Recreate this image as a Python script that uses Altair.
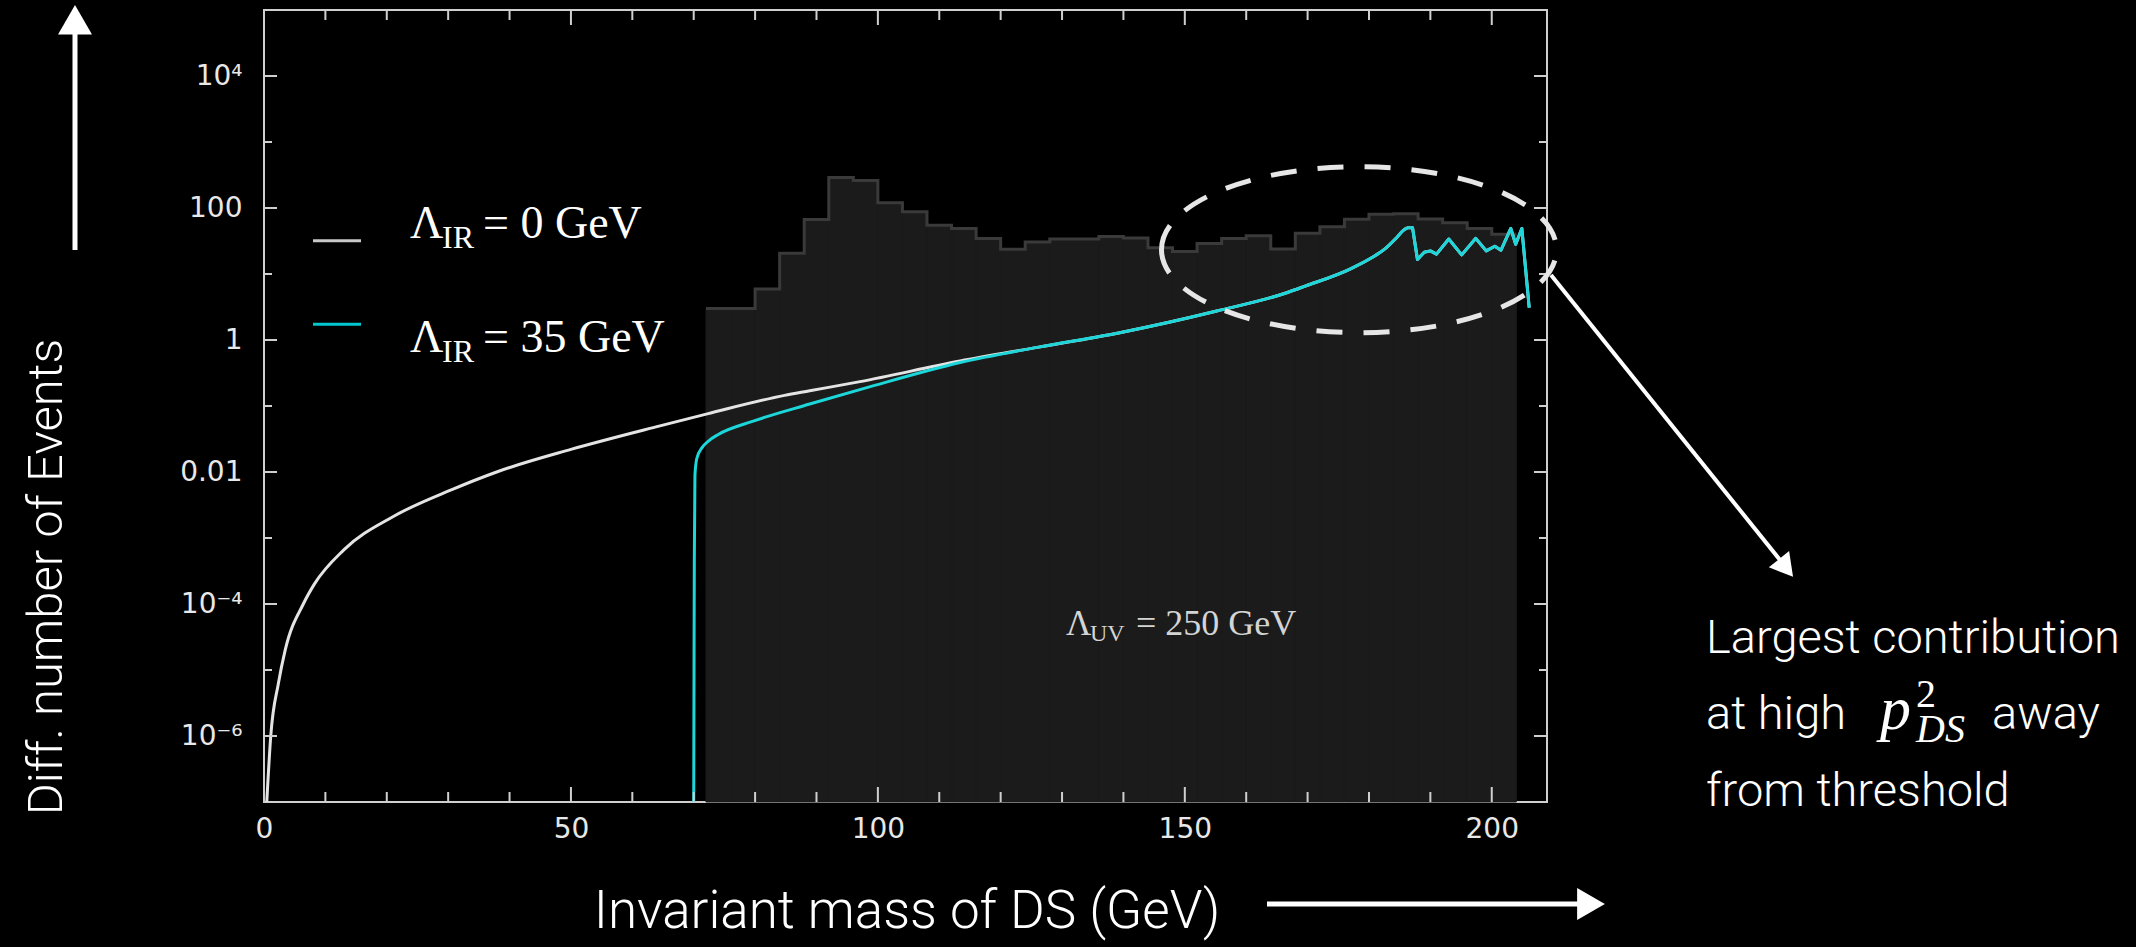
import altair as alt
import pandas as pd

# ---------------- layout ----------------
W, H = 1283, 792            # plot area in px
LEFT, TOP = 264, 10         # plot origin on the page
PAGE_W, PAGE_H = 2136, 947

X_DOMAIN = [0, 209]
Y_DOMAIN = [1e-7, 1e5]

BG = "#000000"
FRAME = "#cfcfcf"
LABEL = "#e8e8e8"
HIST_FILL = "#1b1b1b"
HIST_EDGE = "#3a3a3a"
WHITE = "#e4e4e4"
CYAN = "#1cd6d9"

TICKFONT = "DejaVu Sans, Liberation Sans, sans-serif"
NARROW = "Roboto, Liberation Sans, sans-serif"
SERIF = "Liberation Serif, DejaVu Serif, serif"

# ---------------- data ----------------
# histogram for Lambda_UV = 250 GeV (4 GeV bins)
hist_edges = [72, 76, 80, 84, 88, 92, 96, 100, 104, 108, 112, 116, 120, 124, 128,
              132, 136, 140, 144, 148, 152, 156, 160, 164, 168, 172, 176, 180, 184,
              188, 192, 196, 200, 204]
hist_counts = [3.0, 3.0, 5.9, 20.6, 67, 290, 260, 120, 88, 55, 49, 34.5, 23.8, 30.5,
               34, 34, 37, 35, 25, 22, 29, 34.5, 38, 24, 41.5, 52, 67.5, 80.5, 81.5,
               68, 60, 49, 40]

# Lambda_IR = 0 GeV, low-mass part
white_low_x = [0.45, 1.1, 2.35, 3.45, 6.4, 8.2, 13, 21, 30.6, 37.9, 50, 64.5, 72.2,
               84.8, 88.9, 97.1, 113.4]
white_low_y = [1.0e-7, 1.0e-6, 6.3e-6, 2.0e-5, 1.0e-4, 2.0e-4, 6.6e-4, 2.1e-3, 5.4e-3,
               1.0e-2, 2.2e-2, 5.0e-2, 7.6e-2, 0.145, 0.17, 0.234, 0.48]

# Lambda_IR = 35 GeV, from the 70 GeV threshold
cyan_low_x = [70.0, 70.05, 70.1, 70.2, 70.5, 71.3, 72.5, 74.0, 79.7, 88.9, 98.2, 113.4]
cyan_low_y = [1.0e-7, 1.0e-5, 5.0e-4, 8.9e-3, 1.6e-2, 2.3e-2, 3.0e-2, 3.7e-2, 5.9e-2,
              0.107, 0.19, 0.457]

# both curves coincide at high mass
shared_x = [126.2, 139.4, 155.2, 166.6, 169.5, 177.0, 180.5, 182.6, 184.5, 185.6, 186.2]
shared_y = [0.78, 1.29, 2.75, 5.2, 6.5, 12.0, 17.8, 24.0, 35.5, 45.7, 50.0]

# oscillating tail near the endpoint
tail_x = [186.2, 187.1, 187.9, 189.0, 190.0, 191.0, 193.0, 195.1, 197.4, 199.1, 200.5,
          201.5, 203.1, 203.9, 204.9, 206.1]
tail_y = [50.0, 50.0, 16.6, 21.4, 22.4, 20.0, 33.9, 19.5, 34.7, 22.4, 26.3, 22.9, 49.0,
          28.2, 49.0, 3.1]

x_label_values = [0, 50, 100, 150, 200]
x_minor_values = [10, 20, 30, 40, 60, 70, 80, 90, 110, 120, 130, 140, 160, 170, 180, 190]
y_label_values = [1e-6, 1e-4, 1e-2, 1, 1e2, 1e4]
y_minor_values = [1e-5, 1e-3, 1e-1, 10, 1e3]

# ---------------- scales / axes ----------------
xs = alt.Scale(domain=X_DOMAIN, nice=False, zero=False)
ys = alt.Scale(type="log", domain=Y_DOMAIN, nice=False)

x_axis = alt.Axis(values=x_label_values, format="d", title=None, grid=False,
                  ticks=False, tickSize=0, domain=False, labelFont=TICKFONT,
                  labelFontSize=28, labelColor=LABEL, labelPadding=13,
                  labelFlush=False, labelOverlap=False)
y_axis = alt.Axis(values=y_label_values, title=None, grid=False, ticks=False,
                  tickSize=0, domain=False, labelFont=TICKFONT, labelFontSize=28,
                  labelColor=LABEL, labelPadding=22, labelFlush=False,
                  labelOverlap=False,
                  labelExpr=("datum.value < 1e-5 ? '10\u207b\u2076' : "
                             "datum.value < 1e-3 ? '10\u207b\u2074' : "
                             "datum.value < 0.1 ? '0.01' : "
                             "datum.value < 10 ? '1' : "
                             "datum.value < 1000 ? '100' : '10\u2074'"))


def X(field):
    return alt.X(f"{field}:Q", scale=xs, axis=x_axis)


def Y(field):
    return alt.Y(f"{field}:Q", scale=ys, axis=y_axis)


one = pd.DataFrame({"a": [0]})


def px(x):
    return x - LEFT


def py(y):
    return y - TOP


# ---------------- histogram ----------------
hist_df = pd.DataFrame({"lo": hist_edges[:-1], "hi": hist_edges[1:],
                        "n": hist_counts, "floor": [Y_DOMAIN[0]] * len(hist_counts)})
hist_fill = alt.Chart(hist_df).mark_rect(color=HIST_FILL, stroke=HIST_FILL,
                                         strokeWidth=1).encode(
    x=X("lo"), x2="hi", y=Y("n"), y2="floor")

step_df = pd.DataFrame({"e": hist_edges, "n": hist_counts + [hist_counts[-1]]})
hist_edge = alt.Chart(step_df).mark_line(
    color=HIST_EDGE, strokeWidth=3, interpolate="step-after").encode(x=X("e"), y=Y("n"))

# ---------------- curves ----------------
def curve(xv, yv, color, interp):
    df = pd.DataFrame({"m": xv, "v": yv})
    return alt.Chart(df).mark_line(color=color, strokeWidth=3, interpolate=interp,
                                   strokeJoin="round").encode(x=X("m"), y=Y("v"))


white_smooth = curve(white_low_x + shared_x, white_low_y + shared_y, WHITE, "monotone")
white_tail = curve(tail_x, tail_y, WHITE, "linear")
cyan_smooth = curve(cyan_low_x + shared_x, cyan_low_y + shared_y, CYAN, "monotone")
cyan_tail = curve(tail_x, tail_y, CYAN, "linear")

# ---------------- inward ticks on all four sides ----------------
def x_ticks(vals, length):
    base = alt.Chart(pd.DataFrame({"m": vals})).mark_rule(color=FRAME, strokeWidth=2)
    return [base.encode(x=X("m"), y=alt.value(H), y2=alt.value(H - length)),
            base.encode(x=X("m"), y=alt.value(0), y2=alt.value(length))]


def y_ticks(vals, length):
    base = alt.Chart(pd.DataFrame({"m": vals})).mark_rule(color=FRAME, strokeWidth=2)
    return [base.encode(y=Y("m"), x=alt.value(0), x2=alt.value(length)),
            base.encode(y=Y("m"), x=alt.value(W), x2=alt.value(W - length))]


ticks = (x_ticks(x_label_values, 15) + x_ticks(x_minor_values, 10)
         + y_ticks(y_label_values, 13) + y_ticks(y_minor_values, 8))

# ---------------- text helpers ----------------
def text(s, x, y, size, font, color="#ffffff", angle=None, align="left",
         style="normal", weight=400):
    kw = dict(text=s, font=font, fontSize=size, color=color, align=align,
              baseline="alphabetic", fontStyle=style, fontWeight=weight)
    if angle is not None:
        kw["angle"] = angle
    return alt.Chart(one).mark_text(**kw).encode(x=alt.value(px(x)), y=alt.value(py(y)))


def seg(x1, y1, x2, y2, color, width):
    return alt.Chart(one).mark_rule(color=color, strokeWidth=width, strokeCap="butt").encode(
        x=alt.value(px(x1)), y=alt.value(py(y1)), x2=alt.value(px(x2)), y2=alt.value(py(y2)))


def head(x, y, size, angle):
    return alt.Chart(one).mark_point(shape="triangle-up", filled=True, size=size,
                                     angle=angle, color="#ffffff", opacity=1).encode(
        x=alt.value(px(x)), y=alt.value(py(y)))


# legend
legend = [
    seg(313, 240.7, 361, 240.7, "#c8c8c8", 3),
    seg(313, 324.3, 361, 324.3, "#00c8d0", 3),
    text("\u039b", 410, 238.3, 46, SERIF),
    text("IR", 442, 248.3, 32, SERIF),
    text("= 0 GeV", 483, 238.3, 46, SERIF),
    text("\u039b", 410, 351.7, 46, SERIF),
    text("IR", 442, 361.7, 32, SERIF),
    text("= 35 GeV", 483, 351.7, 46, SERIF),
]

# Lambda_UV label inside the plot
uv_label = [
    text("\u039b", 1066, 635, 35, SERIF, color="#d4d4d4"),
    text("UV", 1090, 641, 24, SERIF, color="#d4d4d4"),
    text("= 250 GeV", 1136, 635, 36, SERIF, color="#d4d4d4"),
]

# dashed ellipse around the high-mass region
ELLIPSE = "M-1,0A1,0.42,0,1,1,1,0A1,0.42,0,1,1,-1,0Z"
ring = alt.Chart(one).mark_point(shape=ELLIPSE, size=395 ** 2, filled=False,
                                 color="#e6e6e6", strokeWidth=5, strokeDash=[26, 21],
                                 opacity=1).encode(x=alt.value(px(1359)), y=alt.value(py(249.7)))

# axis titles with arrows
titles = [
    text("Diff. number of Events", 62, 577, 49, NARROW, angle=270, align="center",
         weight=300),
    seg(75, 250, 75, 34, "#ffffff", 5),
    head(75, 19.7, 1156, 0),
    text("Invariant mass of DS (GeV)", 907, 928, 53, NARROW, align="center",
         weight=300),
    seg(1267, 904, 1578, 904, "#ffffff", 5),
    head(1591, 904, 1024, 90),
]

# side note with arrow
note = [
    seg(1551, 275, 1780, 560, "#ffffff", 4),
    head(1786, 568, 676, 141.3),
    text("Largest contribution", 1706, 653, 47, NARROW, weight=300),
    text("at high", 1706, 729, 47, NARROW, weight=300),
    text("p", 1880, 729, 62, SERIF, style="italic"),
    text("2", 1916, 707, 40, SERIF),
    text("DS", 1916, 742, 40, SERIF, style="italic"),
    text("away", 1992, 729, 47, NARROW, weight=300),
    text("from threshold", 1706, 805.5, 47, NARROW, weight=300),
]

layers = ([hist_fill, hist_edge, white_smooth, white_tail, cyan_smooth, cyan_tail]
          + ticks + legend + uv_label + [ring] + titles + note)

chart = alt.layer(*layers).properties(
    width=W, height=H, background=BG,
    padding={"left": LEFT, "top": TOP, "right": PAGE_W - LEFT - W,
             "bottom": PAGE_H - TOP - H},
    autosize=alt.AutoSizeParams(type="none"),
).configure_view(stroke=FRAME, strokeWidth=2)

chart.save("out.html", embed_options={"renderer": "svg", "actions": False})
